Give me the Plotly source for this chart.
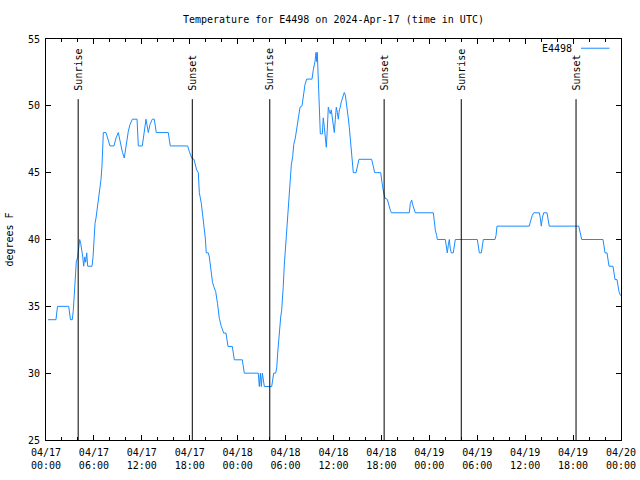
import pandas as pd
import plotly.graph_objects as go

# Hours since 2024-04-17 00:00 UTC and temperature (degrees F)
hours = [0.25, 1.25, 1.44, 2.84, 3.07, 3.29, 3.42, 3.54, 3.67, 3.79, 3.97, 4.09, 4.22, 4.35, 4.47, 4.60, 4.72, 4.85, 4.97, 5.10, 5.22,
         5.76, 5.89, 6.01, 6.14, 6.26, 6.39, 6.51, 6.64, 6.76, 6.89, 7.01, 7.09, 7.18, 7.51, 7.73, 8.01, 8.51, 8.77, 9.05, 9.20,
         9.39, 9.58, 9.80, 9.95, 10.14, 10.31, 10.52, 10.81, 11.40, 11.56, 12.06, 12.27, 12.52, 12.81, 13.02, 13.31, 13.56, 13.81,
         15.31, 15.56, 17.74, 17.94, 18.24, 18.53, 18.87, 19.07, 19.20, 19.45, 19.70, 19.82, 19.95, 20.07, 20.32, 20.45, 20.57,
         20.70, 20.85, 21.00, 21.25, 21.48, 21.70, 21.95, 22.25, 22.54, 22.79, 23.33, 23.58, 24.58, 24.71, 24.83, 26.58, 26.71,
         26.84, 26.96, 27.09, 27.21, 27.34, 28.26, 28.39, 28.51, 28.76, 28.89, 29.01, 29.14, 29.26, 29.39, 29.51, 29.64, 29.71,
         29.84, 29.97, 30.09, 30.22, 30.34, 30.47, 30.59, 30.72, 30.89, 31.02, 31.22, 31.39, 31.59, 31.81, 32.06, 32.22, 32.43,
         32.64, 33.31, 33.47, 33.68, 33.81, 33.90, 33.97, 34.10, 34.22, 34.35, 34.60, 34.72, 34.85, 34.97, 35.10, 35.22, 35.35,
         35.47, 35.60, 35.72, 35.85, 35.98, 36.10, 36.23, 36.35, 36.48, 36.60, 36.73, 36.85, 36.98, 37.10, 37.23, 37.35, 37.48,
         37.60, 37.73, 37.85, 37.98, 38.10, 38.23, 38.36, 38.48, 38.82, 38.94, 39.07, 39.19, 40.78, 40.91, 41.03, 41.16, 41.91,
         42.04, 42.16, 42.32, 42.45, 42.74, 42.86, 42.99, 43.11, 43.24, 45.49, 45.62, 45.79, 45.92, 46.04, 46.24, 48.50, 48.62,
         48.75, 48.92, 49.00, 50.00, 50.13, 50.25, 50.38, 50.50, 50.63, 50.75, 51.00, 51.13, 51.25, 54.01, 54.13, 54.26, 54.51,
         54.63, 54.76, 56.22, 56.35, 56.47, 60.52, 60.64, 60.77, 60.89, 61.07, 61.77, 61.90, 62.02, 62.15, 62.32, 62.73, 62.86,
         63.02, 66.71, 66.83, 66.96, 67.08, 69.75, 69.87, 70.00, 70.25, 70.37, 70.50, 71.00, 71.13, 71.25, 71.50, 71.62, 71.75,
         71.94]
temps = [34, 34, 35, 35, 34, 34, 34.7, 35.8, 37.3, 38.3, 38.7, 39.3, 40, 39.7, 39.3, 38.7, 38, 38.7, 38.3, 39, 38,
         38, 38.7, 40.2, 41.2, 41.6, 42.2, 42.7, 43.2, 43.7, 44.5, 45.5, 46.5, 48, 48, 47.5, 47, 47, 47.6, 48, 47.5,
         47, 46.5, 46.1, 46.8, 47.6, 48.1, 48.6, 49, 49, 47, 47, 48, 49, 48, 48.6, 49, 49, 48,
         48, 47, 47, 46.6, 46.1, 46, 45.2, 45, 43.5, 42.7, 41.6, 40.8, 40.1, 39, 39, 38.7, 38.1,
         37.2, 36.8, 36.5, 36.1, 35.2, 34.1, 33.5, 33, 33, 32, 32, 31, 31, 30.3, 30, 30, 29,
         30, 29, 30, 29.5, 29, 29, 29.6, 30, 30, 30.4, 31.5, 32.5, 33.5, 34.2, 34.7, 35.6, 36.5,
         38.1, 39.3, 40.5, 41.5, 42.4, 43.5, 44.4, 45.6, 46.2, 47.1, 47.6, 48.2, 49.1, 49.9, 50, 50.8, 51.6,
         52, 52, 52.7, 53.3, 54, 53.3, 54, 51.8, 48.9, 47.9, 47.9, 49.1, 48.4, 47.4, 46.9, 48.2, 49.9,
         49.6, 49.4, 49.7, 49, 48.4, 48, 49, 49.9, 49.5, 49, 49.7, 49.9, 50.3, 50.5, 50.8, 51, 50.8,
         50.3, 49.9, 49.1, 48.4, 47.4, 46.6, 45.8, 45, 45, 45.4, 45.7, 46, 46, 45.7, 45.4, 45, 45,
         44.3, 43.9, 43.4, 43.1, 43, 42.7, 42.4, 42.2, 42, 42, 42.7, 42.95, 42.6, 42.3, 42, 42, 41.3,
         40.7, 40.3, 40, 40, 39.3, 39, 39.6, 40, 39.3, 39, 39, 39.6, 40, 40, 39.5, 39, 39,
         39.5, 40, 40, 40.3, 41, 41, 41.3, 41.6, 41.8, 42, 42, 41.6, 41, 41.6, 42, 42, 41.6,
         41, 41, 40.7, 40.3, 40, 40, 39.6, 39, 39, 38.5, 38, 38, 37.6, 37, 37, 36.6, 36.1,
         35.8]

sun_labels = ["Sunrise", "Sunset", "Sunrise", "Sunset", "Sunrise", "Sunset"]
sun_hours = [4.03, 18.32, 28.02, 42.34, 52.0, 66.37]

base = pd.Timestamp("2024-04-17 00:00")
times = [base + pd.Timedelta(hours=h) for h in hours]
sun_times = [base + pd.Timedelta(hours=h) for h in sun_hours]

FONT = "DejaVu Sans Mono"
LINE_COLOR = "#1a8cff"

fig = go.Figure()
fig.add_trace(go.Scatter(x=times, y=temps, mode="lines", name="E4498",
                         line=dict(color=LINE_COLOR, width=1), showlegend=False))

for lbl, t in zip(sun_labels, sun_times):
    fig.add_shape(type="line", xref="x", yref="y", x0=t, x1=t, y0=25, y1=50.5,
                  line=dict(color="black", width=1))
    fig.add_annotation(x=t, y=51.0, xref="x", yref="y", text=lbl, textangle=-90,
                       showarrow=False, xanchor="center", yanchor="bottom",
                       font=dict(family=FONT, size=10, color="black"))

# legend (gnuplot style: text then line sample)
fig.add_annotation(x=0.9188, y=0.976, xref="paper", yref="paper", text="E4498",
                   showarrow=False, xanchor="right", yanchor="middle",
                   font=dict(family=FONT, size=10, color="black"))
fig.add_shape(type="line", xref="paper", yref="paper", x0=0.9304, x1=0.98, y0=0.977, y1=0.977,
              line=dict(color=LINE_COLOR, width=1))

fig.update_layout(
    width=640, height=480,
    margin=dict(l=46, r=19, t=39, b=40),
    paper_bgcolor="white", plot_bgcolor="white",
    font=dict(family=FONT, size=10, color="black"),
    title=dict(text="Temperature for E4498 on 2024-Apr-17 (time in UTC)", x=0.521, xanchor="center",
               y=1 - 19 / 480, yanchor="middle", yref="container",
               font=dict(family=FONT, size=10, color="black")),
    showlegend=False,
)
fig.update_xaxes(
    type="date", range=[base, base + pd.Timedelta(hours=72)], automargin=False,
    dtick=6 * 3600 * 1000, tick0=base, tickformat="%m/%d<br>%H:%M",
    ticks="inside", ticklen=5, tickcolor="black", tickwidth=1, ticklabelstandoff=3,
    minor=dict(dtick=2 * 3600 * 1000, ticks="inside", ticklen=3, tickcolor="black", tickwidth=1),
    showline=True, linecolor="black", linewidth=1, mirror="allticks",
    showgrid=False, zeroline=False,
    tickfont=dict(family=FONT, size=10, color="black"),
)
fig.update_yaxes(
    range=[25, 55], dtick=5, tick0=25, automargin=False,
    ticks="inside", ticklen=5, tickcolor="black", tickwidth=1, ticklabelstandoff=3,
    showline=True, linecolor="black", linewidth=1, mirror="allticks",
    showgrid=False, zeroline=False,
    title=dict(text="degrees F", font=dict(family=FONT, size=10, color="black"), standoff=12),
    tickfont=dict(family=FONT, size=10, color="black"),
)

fig.write_html("out.html")
